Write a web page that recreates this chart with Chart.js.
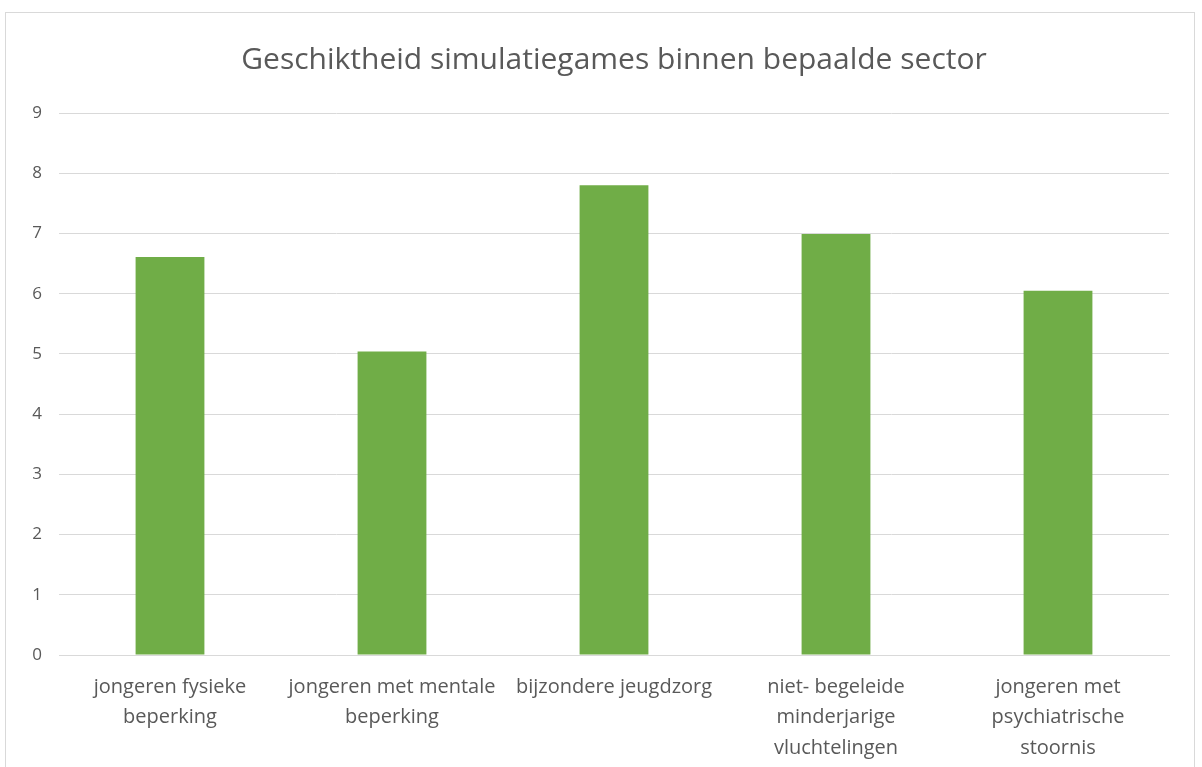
<!DOCTYPE html>
<html lang="nl">
<head>
    <meta charset="UTF-8">
    <title>Geschiktheid simulatiegames binnen bepaalde sector</title>
    <script src="https://cdn.jsdelivr.net/npm/chart.js"></script>
    <style>
        body { margin: 0; background: #fff; }
        #kader {
            position: absolute; left: 5px; top: 12px;
            width: 1188px; height: 770px;
            border: 1px solid #d9d9d9; border-bottom: none;
        }
    </style>
</head>
<body>
    <div id="kader"><canvas id="grafiek" width="1188" height="770"></canvas></div>

    <script>
        // categorieën (labels over meerdere regels zoals in het origineel)
        const sectoren = [
            ["jongeren fysieke", "beperking"],
            ["jongeren met mentale", "beperking"],
            ["bijzondere jeugdzorg"],
            ["niet- begeleide", "minderjarige", "vluchtelingen"],
            ["jongeren met", "psychiatrische", "stoornis"]
        ];
        // gemiddelde score per sector
        const scores = [6.61, 5.04, 7.8, 6.99, 6.05];
        const yMin = 0, yMax = 9, yStap = 1;

        const grijs = '#595959';
        const lijn = '#d9d9d9';

        const ctx = document.getElementById('grafiek').getContext('2d');
        new Chart(ctx, {
            type: 'bar',
            data: {
                labels: sectoren,
                datasets: [{
                    data: scores,
                    backgroundColor: '#70AD47',
                    barPercentage: 0.31,
                    categoryPercentage: 1
                }]
            },
            options: {
                responsive: false,
                animation: false,
                layout: { padding: { left: 0, right: 25, top: 0, bottom: 0 } },
                plugins: {
                    legend: { display: false },
                    tooltip: { enabled: false },
                    title: {
                        display: true,
                        fullSize: false,
                        text: 'Geschiktheid simulatiegames binnen bepaalde sector',
                        color: grijs,
                        font: { family: 'Open Sans', size: 30, weight: 'normal' },
                        padding: { top: 29, bottom: 35 }
                    }
                },
                scales: {
                    x: {
                        grid: { display: false, drawTicks: false },
                        border: { color: lijn, width: 1 },
                        ticks: {
                            color: grijs,
                            font: { family: 'Open Sans', size: 20, lineHeight: '30.5px' },
                            padding: 17,
                            maxRotation: 0,
                            autoSkip: false
                        },
                        afterFit: (s) => { s.height = 770 - 642; }
                    },
                    y: {
                        min: yMin, max: yMax,
                        grid: { color: lijn, drawTicks: false },
                        border: { display: false },
                        ticks: {
                            stepSize: yStap,
                            color: grijs,
                            font: { family: 'Open Sans', size: 17 },
                            padding: 17
                        },
                        afterFit: (s) => { s.width = 53; }
                    }
                }
            }
        });
    </script>
</body>
</html>
